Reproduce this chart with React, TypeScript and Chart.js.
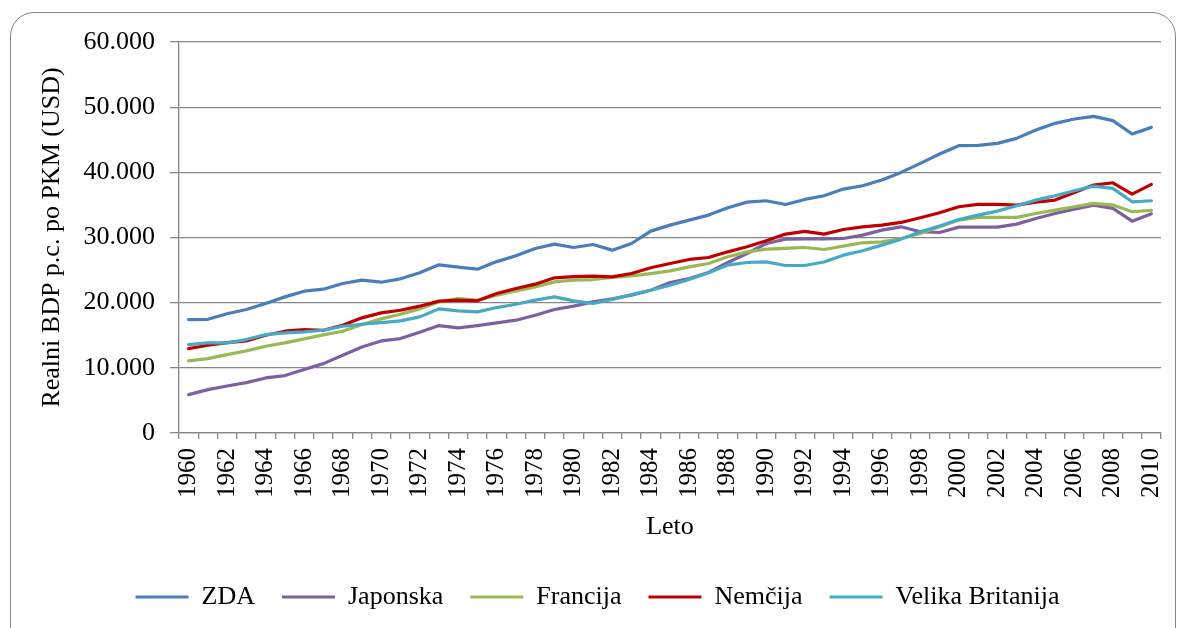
import React, { useEffect, useRef } from "react";
import { Chart, registerables } from "chart.js";

Chart.register(...registerables);

const years = [
  "1960", "1961", "1962", "1963", "1964", "1965", "1966", "1967", "1968", "1969",
  "1970", "1971", "1972", "1973", "1974", "1975", "1976", "1977", "1978", "1979",
  "1980", "1981", "1982", "1983", "1984", "1985", "1986", "1987", "1988", "1989",
  "1990", "1991", "1992", "1993", "1994", "1995", "1996", "1997", "1998", "1999",
  "2000", "2001", "2002", "2003", "2004", "2005", "2006", "2007", "2008", "2009",
  "2010",
];

const zda = [
  17400, 17450, 18300, 18950, 19870, 20890, 21760, 22070, 22940, 23450,
  23140, 23660, 24580, 25810, 25450, 25140, 26300, 27190, 28310, 28980,
  28470, 28930, 28060, 29080, 30980, 31900, 32670, 33440, 34560, 35430,
  35640, 35070, 35840, 36400, 37430, 37940, 38810, 39990, 41370, 42810,
  44090, 44140, 44450, 45210, 46490, 47520, 48180, 48590, 47930, 45880,
  46900,
];

const japonska = [
  5890, 6660, 7220, 7730, 8450, 8810, 9730, 10650, 11930, 13210,
  14130, 14490, 15460, 16490, 16130, 16490, 16900, 17310, 18070, 18950,
  19460, 20120, 20580, 21150, 21910, 23090, 23710, 24630, 26170, 27550,
  29080, 29750, 29800, 29800, 29850, 30360, 31130, 31640, 30880, 30770,
  31590, 31590, 31590, 32050, 32920, 33690, 34360, 34970, 34460, 32510,
  33640,
];

const francija = [
  11060, 11420, 12030, 12600, 13310, 13820, 14440, 15050, 15620, 16640,
  17510, 18230, 19050, 20120, 20630, 20380, 21150, 21810, 22430, 23190,
  23450, 23550, 23860, 24120, 24470, 24880, 25500, 26010, 27040, 27800,
  28210, 28320, 28470, 28160, 28670, 29190, 29340, 29850, 30620, 31640,
  32670, 33080, 33080, 33080, 33690, 34200, 34720, 35230, 34970, 33950,
  34150,
];

const nemcija = [
  12950, 13470, 13880, 14130, 15000, 15620, 15870, 15770, 16540, 17670,
  18430, 18840, 19460, 20230, 20380, 20280, 21400, 22170, 22840, 23810,
  24010, 24070, 23960, 24470, 25350, 26010, 26630, 26930, 27800, 28570,
  29490, 30520, 30930, 30520, 31230, 31640, 31900, 32310, 33030, 33790,
  34720, 35070, 35070, 34970, 35430, 35740, 36920, 38040, 38400, 36660,
  38150,
];

const velikaBritanija = [
  13570, 13820, 13820, 14340, 15100, 15360, 15510, 15770, 16380, 16690,
  16950, 17200, 17820, 19050, 18740, 18590, 19250, 19760, 20380, 20890,
  20280, 19870, 20480, 21250, 21910, 22680, 23550, 24580, 25760, 26160,
  26270, 25700, 25700, 26240, 27290, 27960, 28830, 29750, 30880, 31750,
  32770, 33440, 34050, 34870, 35740, 36400, 37170, 37890, 37530, 35480,
  35640,
];

const seriesNames = ["ZDA", "Japonska", "Francija", "Nemčija", "Velika Britanija"];
const seriesColors = ["#4A7EBB", "#7D60A0", "#98B954", "#C00000", "#46AAC5"];
const yTickValues = [0, 10000, 20000, 30000, 40000, 50000, 60000];

const FONT = "'Liberation Serif', 'Times New Roman', serif";
const GRID = "#868686";

function formatThousands(v: number): string {
  if (v === 0) return "0";
  const s = String(Math.round(v));
  return s.replace(/\B(?=(\d{3})+(?!\d))/g, ".");
}

const legendShift = {
  id: "legendShift",
  afterLayout(chart: any) {
    const lg = chart.legend;
    if (lg) {
      lg.left += 17;
      lg.right += 17;
    }
  },
};

export default function App() {
  const canvasRef = useRef<HTMLCanvasElement | null>(null);

  useEffect(() => {
    if (!canvasRef.current) return;
    const seriesData = [zda, japonska, francija, nemcija, velikaBritanija];
    const datasets = seriesNames.map((name, i) => ({
      label: name,
      data: seriesData[i],
      borderColor: seriesColors[i],
      backgroundColor: seriesColors[i],
      borderWidth: 3.2,
      pointRadius: 0,
      pointHoverRadius: 0,
      tension: 0,
      borderCapStyle: "round" as const,
      borderJoinStyle: "round" as const,
      order: seriesNames.length - 1 - i,
    }));

    const chart = new Chart(canvasRef.current, {
      type: "line",
      data: { labels: years, datasets },
      plugins: [legendShift],
      options: {
        animation: false,
        responsive: false,
        events: [],
        layout: { padding: { left: 0, top: 42, right: 17, bottom: 8 } },
        plugins: {
          tooltip: { enabled: false },
          legend: {
            position: "bottom",
            labels: {
              font: { family: FONT, size: 26 },
              color: "#000",
              usePointStyle: true,
              pointStyle: "line",
              pointStyleWidth: 53,
              boxHeight: 26,
              padding: 27,
              sort: (a: any, b: any) => a.datasetIndex - b.datasetIndex,
            },
          },
        },
        scales: {
          x: {
            type: "category",
            offset: true,
            grid: {
              offset: true,
              drawOnChartArea: false,
              drawTicks: true,
              tickLength: 6,
              color: GRID,
              lineWidth: 1.3,
            },
            border: { display: true, color: GRID, width: 1.3 },
            ticks: {
              autoSkip: false,
              minRotation: 90,
              maxRotation: 90,
              padding: 9,
              color: "#000",
              font: { family: FONT, size: 25 },
              callback: (_v: any, i: number) => (i % 2 === 0 ? years[i] : ""),
            },
            title: {
              display: true,
              text: "Leto",
              color: "#000",
              font: { family: FONT, size: 26 },
              padding: { top: 0, bottom: 14 },
            },
            afterFit: (scale: any) => {
              scale.height = 124;
              scale.paddingLeft = 0;
              scale.paddingRight = 0;
            },
          },
          y: {
            min: 0,
            max: 60000,
            afterBuildTicks: (scale: any) => {
              scale.ticks = yTickValues.map((v) => ({ value: v }));
            },
            grid: {
              color: GRID,
              lineWidth: 1.3,
              drawTicks: true,
              tickLength: 9,
            },
            border: { display: true, color: GRID, width: 1.3 },
            ticks: {
              padding: 15,
              color: "#000",
              font: { family: FONT, size: 26 },
              callback: (v: any) => formatThousands(Number(v)),
            },
            title: {
              display: true,
              text: "Realni BDP p.c. po PKM (USD)",
              color: "#000",
              font: { family: FONT, size: 26 },
              padding: { top: 37, bottom: 0 },
            },
            afterFit: (scale: any) => {
              scale.width = 179;
            },
          },
        },
      },
    });
    return () => chart.destroy();
  }, []);

  return (
    <div
      style={{
        position: "fixed",
        left: 0,
        top: 0,
        width: 1178,
        height: 628,
        overflow: "hidden",
        background: "#fff",
      }}
    >
      <div
        style={{
          position: "absolute",
          left: 10,
          top: 12,
          width: 1166,
          height: 700,
          border: "1.5px solid #868686",
          borderRadius: 24,
          boxSizing: "border-box",
        }}
      />
      <canvas
        ref={canvasRef}
        width={1178}
        height={628}
        style={{ position: "absolute", left: 0, top: 0, display: "block" }}
      />
    </div>
  );
}
